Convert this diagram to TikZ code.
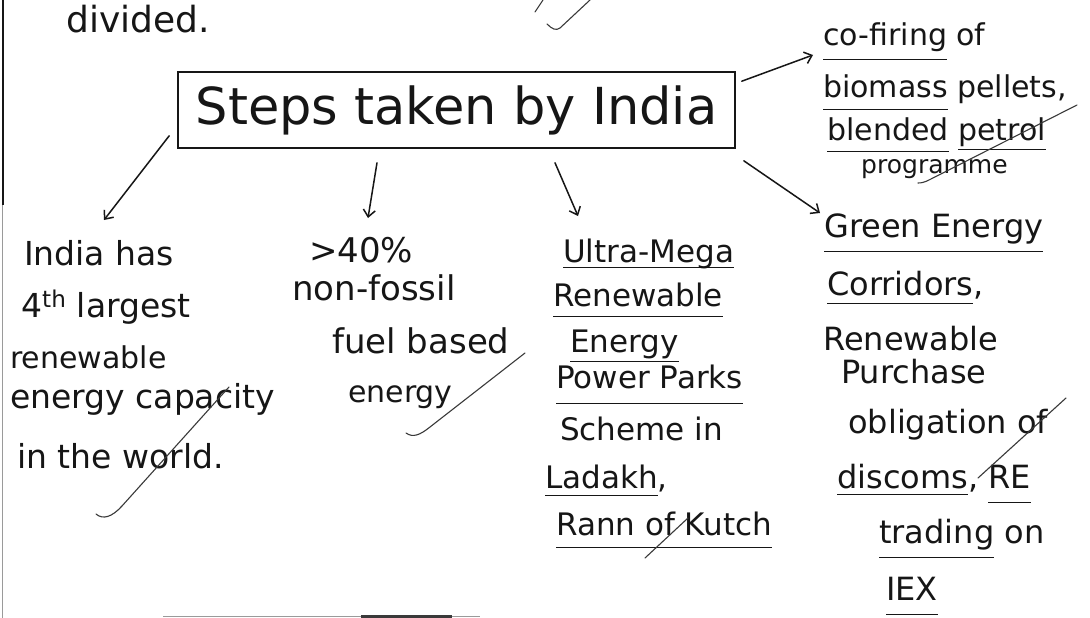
\documentclass[tikz,border=0pt]{standalone}
\usepackage{fontspec}
\setmainfont{DejaVu Sans}
\usetikzlibrary{arrows.meta}
\definecolor{ink}{HTML}{161616}
\definecolor{pencil}{HTML}{3A3A3A}
\definecolor{edgegray}{HTML}{9A9A9A}
% underline a word: optional distance below the baseline
\newcommand\hul[2][6pt]{\leavevmode\setbox0\hbox{#2}\rlap{\vrule width\wd0 height\dimexpr1.3pt-#1\relax depth #1\relax}\box0\relax}
\begin{document}
\begin{tikzpicture}[x=1pt,y=-1pt,
  txt/.style={inner sep=0pt, anchor=base west, text=ink},
  fa/.style={txt, font=\fontsize{33}{38}\selectfont},
  fb/.style={txt, font=\fontsize{34}{40}\selectfont},
  fc/.style={txt, font=\fontsize{31}{37}\selectfont},
  fd/.style={txt, font=\fontsize{32}{38}\selectfont},
  fe/.style={txt, font=\fontsize{30}{36}\selectfont},
  smalltxt/.style={font=\fontsize{30}{36}\selectfont},
  tinytxt/.style={font=\fontsize{25}{30}\selectfont},
  titlebox/.style={draw=ink, line width=1.6pt, inner sep=0pt, text=ink,
    minimum width=557pt, minimum height=76pt, font=\fontsize{51}{60}\selectfont},
  arr/.style={draw=ink, line width=1.5pt, line cap=round,
    -{Straight Barb[length=7pt,width=12pt,line width=1.5pt]}},
  tickmark/.style={draw=pencil, line width=1.1pt, line cap=round, line join=round},
]
\fill[white] (0,0) rectangle (1090,618);
\useasboundingbox (0,0) rectangle (1090,618);

% page edge and bottom smudge
\draw[ink, line width=1.6pt] (3,0) -- (3,205);
\draw[edgegray, line width=0.8pt] (2,205) -- (2,618);
\draw[edgegray, line width=1pt] (163,616.5) -- (480,616.5);
\draw[pencil, line width=3pt] (361,616.5) -- (452,616.5);

% carried-over line
\node[txt, font=\fontsize{36}{42}\selectfont] (prev) at (66,33) {divided.};

% central box
\node[titlebox] (steps) at (456.5,110) {Steps taken by India};

% left column
\node[fa] (A1) at (24,265) {India has};
\node[fa] (A2) at (21,317) {4\textsuperscript{th} largest};
\node[fa, smalltxt] (A3) at (10,368) {renewable};
\node[fa] (A4) at (10,408) {energy capacity};
\node[fa] (A5) at (17,468) {in the world.};

% second column
\node[fb] (B1) at (309,262) {>40\%};
\node[fb] (B2) at (292,300) {non-fossil};
\node[fb] (B3) at (332,353) {fuel based};
\node[fb, smalltxt] (B4) at (348,402) {energy};

% third column
\node[fc] (C1) at (563,262) {\hul[6pt]{Ultra-Mega}};
\node[fc] (C2) at (553,306) {\hul[11pt]{Renewable}};
\node[fc] (C3) at (570,352) {\hul[10pt]{Energy}};
\node[fc] (C4) at (556,388) {\hul[16pt]{Power Parks}};
\node[fc] (C5) at (560,440) {Scheme in};
\node[fc] (C6) at (545,488) {\hul[8pt]{Ladakh},};
\node[fc] (C7) at (556,535) {\hul[13pt]{Rann of Kutch}};

% fourth column
\node[fd] (D1) at (824,237) {\hul[15pt]{Green Energy}};
\node[fd] (D2) at (827,295) {\hul[9pt]{Corridors},};
\node[fd] (D3) at (823,350) {Renewable};
\node[fd] (D4) at (841,383) {Purchase};
\node[fd] (D5) at (848,433) {obligation of};
\node[fd] (D6) at (837,488) {\hul[7pt]{discoms}, \hul[15pt]{RE}};
\node[fd] (D7) at (879,543) {\hul[15pt]{trading} on};
\node[fd] (D8) at (886,600) {\hul[15pt]{IEX}};

% top right
\node[fe] (E1) at (823,46) {\hul[14pt]{co-firing} of};
\node[fe] (E2) at (823,97) {\hul[13pt]{biomass} pellets,};
\node[fe] (E3) at (827,140) {\hul[12pt]{blended} \hul[10pt]{petrol}};
\node[fe, tinytxt] (E4) at (861,173) {programme};

% arrows out of the box
\draw[arr] ([xshift=-8pt,yshift=13pt]steps.south west) -- ([xshift=80pt,yshift=45pt]A1.base west);
\draw[arr] ([xshift=-79.5pt,yshift=-14pt]steps.south) -- ([xshift=59pt,yshift=44pt]B1.base west);
\draw[arr] ([xshift=98.5pt,yshift=-14pt]steps.south) -- ([xshift=15pt,yshift=46pt]C1.base west);
\draw[arr] ([xshift=8pt,yshift=-12pt]steps.south east) -- ([xshift=-4pt,yshift=24pt]D1.base west);
\draw[arr] ([xshift=6pt,yshift=-10pt]steps.north east) -- ([xshift=-10pt,yshift=-9pt]E1.base west);

% check marks
\draw[tickmark] (535,12) -- (543,0);
\draw[tickmark] (547,24) .. controls (552,29) and (556,31) .. (560,28) -- (590,0);
\draw[tickmark] (96,514) .. controls (103,520) and (112,517) .. (122,506) -- (229,387);
\draw[tickmark] (406,433) .. controls (413,438) and (420,435) .. (430,427) -- (525,353);
\draw[tickmark] (978,478) -- (1066,398);
\draw[tickmark] (918,183) .. controls (922,183) and (925,182) .. (929,180) -- (1077,105);
\draw[tickmark] (645,558) -- (688,518);
\end{tikzpicture}
\end{document}
